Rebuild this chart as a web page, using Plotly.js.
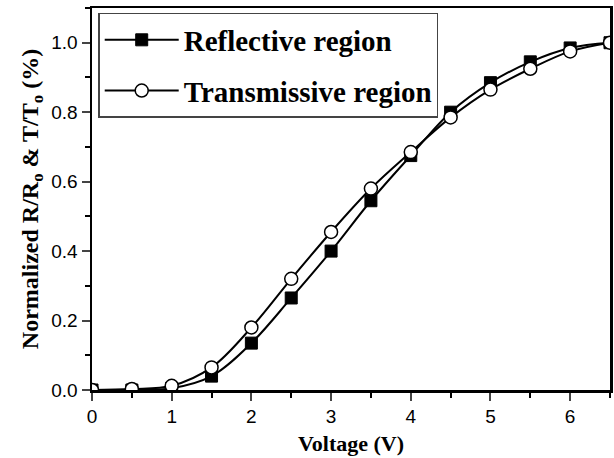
<!DOCTYPE html>
<html><head><meta charset="utf-8">
<script src="https://cdn.plot.ly/plotly-3.0.1.min.js"></script>
<style>html,body{margin:0;padding:0;background:#fff}</style>
</head><body>
<div id="chart" style="width:614px;height:458px"></div>
<script>
const voltage = [0, 0.5, 1, 1.5, 2, 2.5, 3, 3.5, 4, 4.5, 5, 5.5, 6, 6.5];
const reflective = [0, 0, 0.005, 0.04, 0.135, 0.265, 0.40, 0.545, 0.675, 0.80, 0.885, 0.945, 0.985, 1.0];
const transmissive = [0, 0.003, 0.012, 0.065, 0.18, 0.32, 0.455, 0.58, 0.685, 0.785, 0.865, 0.925, 0.975, 1.0];
const seriesNames = ['Reflective region', 'Transmissive region'];

const traces = [
  {x: voltage, y: reflective, name: seriesNames[0], legendgroup: 'r', mode: 'lines+markers', type: 'scatter',
   line: {color: '#000', width: 2, shape: 'spline'},
   marker: {symbol: 'square', size: 12, color: '#000', line: {color: '#000', width: 1}}},
  {x: voltage, y: transmissive, name: seriesNames[1], legendgroup: 't', mode: 'lines+markers', type: 'scatter',
   line: {color: '#000', width: 2, shape: 'spline'},
   marker: {symbol: 'circle', size: 13, color: '#fff', line: {color: '#000', width: 1.5}}}
];

const layout = {
  width: 614, height: 458,
  margin: {l: 92, r: 4, t: 8, b: 68},
  paper_bgcolor: '#fff', plot_bgcolor: '#fff',
  showlegend: true,
  legend: {x: 0.012, y: 0.987, xanchor: 'left', yanchor: 'top',
    bgcolor: '#fff', bordercolor: '#444', borderwidth: 1.5,
    font: {family: 'Liberation Serif', size: 29, color: '#000', weight: 'bold'},
    itemwidth: 74, tracegroupgap: 10},
  xaxis: {range: [0, 6.5], dtick: 1, tick0: 0, ticks: 'outside', ticklen: 8, tickwidth: 2,
    showline: true, linewidth: 2.5, linecolor: '#000', mirror: true, showgrid: false, zeroline: false,
    tickfont: {family: 'Liberation Sans', size: 19, color: '#000'},
    minor: {dtick: 0.5, ticks: 'outside', ticklen: 5, tickwidth: 2, tickcolor: '#000', showgrid: false},
    title: {text: 'Voltage (V)', standoff: 10,
      font: {family: 'Liberation Serif', size: 22, color: '#000', weight: 'bold'}}},
  yaxis: {range: [0, 1.1], dtick: 0.2, tick0: 0, ticks: 'outside', ticklen: 8, tickwidth: 2,
    tickformat: '.1f',
    showline: true, linewidth: 2.5, linecolor: '#000', mirror: true, showgrid: false, zeroline: false,
    tickfont: {family: 'Liberation Sans', size: 19, color: '#000'},
    minor: {dtick: 0.1, ticks: 'outside', ticklen: 5, tickwidth: 2, tickcolor: '#000', showgrid: false},
    title: {text: 'Normalized R/R<sub>o</sub> & T/T<sub>o</sub> (%)', standoff: 6,
      font: {family: 'Liberation Serif', size: 24, color: '#000', weight: 'bold'}}}
};

Plotly.newPlot('chart', traces, layout, {displayModeBar: false, staticPlot: true});
</script>
</body></html>
